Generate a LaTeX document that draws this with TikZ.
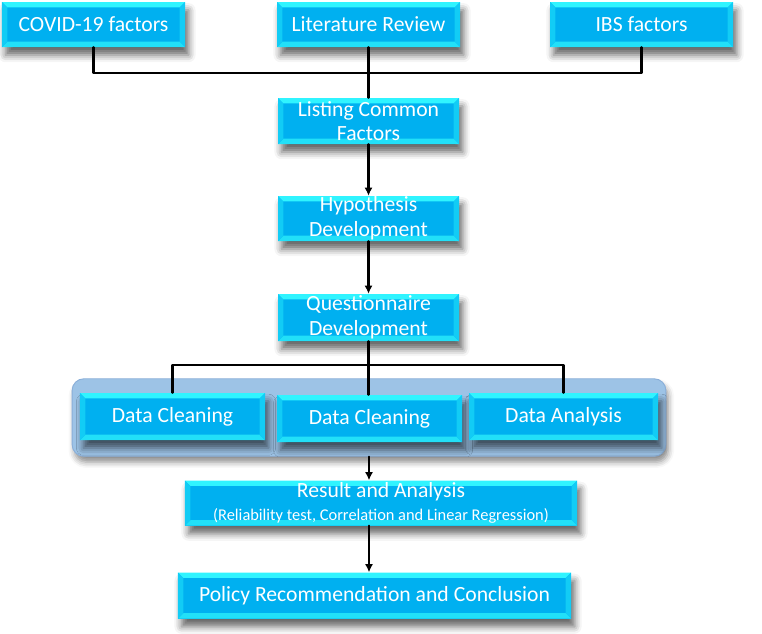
\documentclass[tikz,border=0pt]{standalone}
\usepackage{fontspec}
\setmainfont{Carlito}
\usetikzlibrary{arrows.meta,fit,backgrounds,shadows.blur}
\definecolor{boxcore}{HTML}{00B0F0}
\definecolor{boxtop}{HTML}{30F4FF}
\definecolor{boxside}{HTML}{12CCF5}
\definecolor{boxbot}{HTML}{22E0F8}
\definecolor{panelfill}{HTML}{9DC3E6}
\definecolor{paneledge}{HTML}{8AAFD9}
\tikzset{
  bevelbox/.style={fill=boxcore, text=white, align=center, inner sep=0pt,
    font=\fontsize{18.5}{21}\selectfont,
    blur shadow={shadow xshift=3pt, shadow yshift=-7pt, shadow blur radius=6pt, shadow opacity=60},
    path picture={
      \fill[boxtop] (path picture bounding box.north west) -- (path picture bounding box.north east)
        -- ([shift={(-4.5pt,-4.5pt)}]path picture bounding box.north east)
        -- ([shift={(4.5pt,-4.5pt)}]path picture bounding box.north west) -- cycle;
      \fill[boxbot] (path picture bounding box.south west) -- (path picture bounding box.south east)
        -- ([shift={(-4.5pt,4.5pt)}]path picture bounding box.south east)
        -- ([shift={(4.5pt,4.5pt)}]path picture bounding box.south west) -- cycle;
      \fill[boxside] (path picture bounding box.north west) -- (path picture bounding box.south west)
        -- ([shift={(4.5pt,4.5pt)}]path picture bounding box.south west)
        -- ([shift={(4.5pt,-4.5pt)}]path picture bounding box.north west) -- cycle;
      \fill[boxside] (path picture bounding box.north east) -- (path picture bounding box.south east)
        -- ([shift={(-4.5pt,4.5pt)}]path picture bounding box.south east)
        -- ([shift={(-4.5pt,-4.5pt)}]path picture bounding box.north east) -- cycle;
    }},
  link/.style={line width=1.8pt, line cap=round},
  flow/.style={link, -{Latex[length=7pt,width=7pt]}},
}
\begin{document}
\begin{tikzpicture}[x=0.03cm,y=-0.03cm,line join=round]
  \useasboundingbox (0,0) rectangle (762,633);
  \node[bevelbox, minimum width=5.49cm, minimum height=1.35cm] (covid) at (93.5,24.5) {COVID-19 factors};
  \node[bevelbox, minimum width=5.49cm, minimum height=1.35cm] (lit) at (368.5,24.5) {Literature Review};
  \node[bevelbox, minimum width=5.49cm, minimum height=1.35cm] (ibs) at (641.5,24.5) {IBS factors};
  \node[bevelbox, minimum width=5.43cm, minimum height=1.38cm] (list) at (368.5,121) {Listing Common\\Factors};
  \node[bevelbox, minimum width=5.43cm, minimum height=1.35cm] (hyp) at (368.5,218.5) {Hypothesis\\Development};
  \node[bevelbox, minimum width=5.43cm, minimum height=1.41cm] (quest) at (368.5,317.5) {Questionnaire\\Development};
  \node[bevelbox, minimum width=5.55cm, minimum height=1.41cm] (dc1) at (172.5,416.5) {Data Cleaning};
  \node[bevelbox, minimum width=5.55cm, minimum height=1.41cm] (dc2) at (369.5,418.5) {Data Cleaning};
  \node[bevelbox, minimum width=5.67cm, minimum height=1.41cm] (da) at (563.5,416.5) {Data Analysis};
  \node[bevelbox, minimum width=11.76cm, minimum height=1.35cm] (res) at (381,503)
    {Result and Analysis\\[-1pt]{\fontsize{14}{16}\selectfont(Reliability test, Correlation and Linear Regression)}};
  \node[bevelbox, minimum width=11.79cm, minimum height=1.38cm] (pol) at (374.5,595.5) {Policy Recommendation and Conclusion};
  \begin{scope}[on background layer]
    \node[fit=(dc1)(dc2)(da), inner xsep=0.23cm, inner ysep=0.42cm, rounded corners=10pt,
      fill=panelfill, draw=paneledge, line width=0.8pt,
      blur shadow={shadow xshift=2pt, shadow yshift=-5pt, shadow blur radius=5pt, shadow opacity=45}] (grp) {};
  \end{scope}
  \coordinate (bus1) at (368.5,73);
  \coordinate (bus2) at (368.5,365);
  \draw[link] (covid.south) |- (bus1) -| (ibs.south);
  \draw[link] (lit.south) -- (list.north);
  \draw[flow] (list) -- (hyp);
  \draw[flow] (hyp) -- (quest);
  \draw[link] (quest.south) -- (bus2);
  \draw[link] (dc1.north) |- (bus2) -| (da.north);
  \draw[link] (bus2) -- (bus2 |- dc2.north);
  \draw[flow] (grp.south) -- (grp.south |- res.north);
  \draw[flow] (res.south -| grp.south) -- (pol.north -| grp.south);
\end{tikzpicture}
\end{document}
